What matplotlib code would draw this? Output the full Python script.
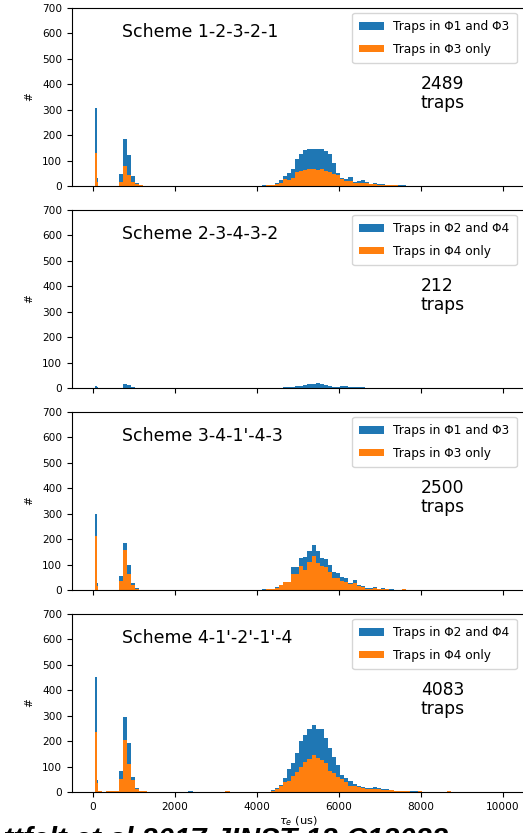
import numpy as np
import matplotlib
matplotlib.use("Agg")
import matplotlib.pyplot as plt

# ---- binning (us) ----
# two narrow bins around the fast population, then 100 us bins from 130 to 8730
EDGES = np.concatenate([[55, 95], np.arange(130, 8731, 100)])
LOW_START, MAIN_START = 130, 4030

# ---- panel titles / totals / legend labels ----
SCHEMES = ["Scheme 1-2-3-2-1", "Scheme 2-3-4-3-2", "Scheme 3-4-1'-4-3", "Scheme 4-1'-2'-1'-4"]
TOTALS = [2489, 212, 2500, 4083]
LABEL_BOTH = ["Traps in Φ1 and Φ3", "Traps in Φ2 and Φ4", "Traps in Φ1 and Φ3", "Traps in Φ2 and Φ4"]
LABEL_ONLY = ["Traps in Φ3 only", "Traps in Φ4 only", "Traps in Φ3 only", "Traps in Φ4 only"]

# ---- counts: spike bins (55-95, 95-130) ----
P1_SPIKE_BOTH, P1_SPIKE_ONLY = [305, 33], [129, 15]
P2_SPIKE_BOTH, P2_SPIKE_ONLY = [6, 2], [0, 0]
P3_SPIKE_BOTH, P3_SPIKE_ONLY = [299, 26], [212, 17]
P4_SPIKE_BOTH, P4_SPIKE_ONLY = [452, 48], [236, 35]

# ---- counts: bins starting 130, 230, ..., 1230 ----
P1_LOW_BOTH = [0, 0, 0, 0, 0, 48, 184, 121, 39, 10, 4, 0]
P1_LOW_ONLY = [0, 0, 0, 0, 0, 17, 80, 43, 17, 7, 3, 0]
P2_LOW_BOTH = [0, 0, 0, 0, 0, 0, 15, 13, 5, 0, 0, 0]
P2_LOW_ONLY = [0] * 12
P3_LOW_BOTH = [0, 0, 0, 0, 0, 56, 185, 98, 26, 8, 0, 0]
P3_LOW_ONLY = [0, 0, 0, 0, 0, 37, 159, 63, 20, 4, 0, 0]
P4_LOW_BOTH = [4, 0, 3, 3, 5, 81, 295, 194, 59, 17, 4, 4]
P4_LOW_ONLY = [2, 0, 3, 3, 3, 50, 203, 109, 46, 12, 4, 4]

# ---- counts: bins starting 4030, 4130, ..., 8630 ----
P1_MAIN_BOTH = [0, 3, 3, 5, 13, 22, 38, 52, 68, 107, 126, 140, 145, 145, 144, 145,
                138, 127, 89, 50, 31, 26, 34, 16, 20, 22, 17, 9, 12, 9, 8, 5,
                4, 3, 4, 3, 0, 0, 0, 0, 0, 0, 0, 0, 0, 0, 0]
P1_MAIN_ONLY = [0, 1, 2, 3, 8, 13, 26, 22, 30, 56, 59, 63, 66, 66, 62, 66,
                59, 55, 46, 42, 26, 20, 21, 10, 12, 10, 10, 7, 7, 5, 4, 4,
                3, 2, 0, 0, 0, 0, 0, 0, 0, 0, 0, 0, 0, 0, 0]
P2_MAIN_BOTH = [0, 0, 0, 0, 0, 1, 2, 2, 4, 6, 9, 11, 14, 17, 18, 16,
                13, 9, 5, 3, 8, 7, 4, 4, 3, 2, 0, 0, 0, 0, 0, 0,
                0, 0, 0, 0, 0, 0, 0, 0, 0, 0, 0, 0, 0, 0, 0]
P2_MAIN_ONLY = [0] * 47
P3_MAIN_BOTH = [0, 2, 4, 5, 10, 21, 33, 33, 89, 89, 126, 128, 152, 177, 152, 126,
                122, 98, 69, 66, 50, 47, 26, 39, 20, 17, 8, 7, 10, 5, 8, 4,
                5, 0, 0, 5, 0, 0, 0, 0, 0, 0, 0, 0, 0, 0, 0]
P3_MAIN_ONLY = [0, 1, 3, 4, 8, 18, 30, 30, 63, 63, 93, 79, 109, 132, 105, 96,
                89, 69, 47, 46, 37, 30, 24, 29, 16, 13, 5, 4, 7, 4, 5, 3,
                0, 0, 0, 5, 0, 0, 0, 0, 0, 0, 0, 0, 0, 0, 0]
P4_MAIN_BOTH = [1, 1, 1, 8, 14, 29, 55, 89, 113, 152, 200, 224, 249, 262, 249, 249,
                211, 172, 139, 106, 67, 55, 45, 31, 25, 21, 16, 16, 21, 16, 13, 10,
                8, 5, 4, 3, 2, 2, 2, 3, 1, 0, 0, 0, 0, 0, 3]
P4_MAIN_ONLY = [0, 1, 1, 5, 12, 24, 38, 45, 64, 80, 97, 117, 128, 145, 134, 126,
                114, 81, 73, 58, 51, 38, 25, 24, 18, 14, 12, 10, 12, 10, 9, 8,
                7, 4, 3, 2, 2, 1, 1, 2, 1, 0, 0, 0, 0, 0, 3]

# isolated traps between the two populations (scheme 4)
P4_STRAY_START = [2330, 3230]
P4_STRAY_BOTH = [3, 3]
P4_STRAY_ONLY = [0, 3]

BLUE, ORANGE = "#1f77b4", "#ff7f0e"


def assemble(spike, low, main, stray_start=(), stray=()):
    counts = np.zeros(len(EDGES) - 1)
    counts[0:2] = spike
    i0 = 2 + (LOW_START - 130) // 100
    counts[i0:i0 + len(low)] = low
    i1 = 2 + (MAIN_START - 130) // 100
    counts[i1:i1 + len(main)] = main
    for s, c in zip(stray_start, stray):
        counts[2 + (s - 130) // 100] = c
    return counts


panels = [
    (assemble(P1_SPIKE_BOTH, P1_LOW_BOTH, P1_MAIN_BOTH),
     assemble(P1_SPIKE_ONLY, P1_LOW_ONLY, P1_MAIN_ONLY)),
    (assemble(P2_SPIKE_BOTH, P2_LOW_BOTH, P2_MAIN_BOTH),
     assemble(P2_SPIKE_ONLY, P2_LOW_ONLY, P2_MAIN_ONLY)),
    (assemble(P3_SPIKE_BOTH, P3_LOW_BOTH, P3_MAIN_BOTH),
     assemble(P3_SPIKE_ONLY, P3_LOW_ONLY, P3_MAIN_ONLY)),
    (assemble(P4_SPIKE_BOTH, P4_LOW_BOTH, P4_MAIN_BOTH, P4_STRAY_START, P4_STRAY_BOTH),
     assemble(P4_SPIKE_ONLY, P4_LOW_ONLY, P4_MAIN_ONLY, P4_STRAY_START, P4_STRAY_ONLY)),
]

W, H = 523, 833
fig = plt.figure(figsize=(W / 100, H / 100), dpi=100)

tops_px = [8, 210, 412, 614]
ax_h_px = 178
left_px, width_px = 72, 452
tick_fs = 7.6

for k, (both, only) in enumerate(panels):
    top = tops_px[k]
    ax = fig.add_axes([left_px / W, (H - top - ax_h_px) / H, width_px / W, ax_h_px / H])
    ax.stairs(both, EDGES, fill=True, color=BLUE, label=LABEL_BOTH[k])
    ax.stairs(only, EDGES, fill=True, color=ORANGE, label=LABEL_ONLY[k])
    ax.set_xlim(-510, 10510)
    ax.set_ylim(0, 700)
    ax.set_xticks([0, 2000, 4000, 6000, 8000, 10000])
    ax.set_yticks(range(0, 701, 100))
    ax.tick_params(labelsize=tick_fs, length=3.5, width=0.8)
    ax.set_ylabel("#", fontsize=tick_fs, labelpad=6)
    if k < 3:
        ax.tick_params(labelbottom=False)
    else:
        ax.set_xlabel(r"$\tau_e$ (us)", fontsize=tick_fs + 0.6, labelpad=2)

    ax.text(0.111, 0.865, SCHEMES[k], transform=ax.transAxes, fontsize=12.5,
            ha="left", va="center")
    ax.text(0.772, 0.52, f"{TOTALS[k]}\ntraps", transform=ax.transAxes,
            fontsize=12.3, ha="left", va="center", linespacing=1.05)

    ax.legend(loc="upper right", bbox_to_anchor=(0.984, 0.972), borderaxespad=0,
              fontsize=8.7, labelspacing=0.8, handlelength=2.0, handleheight=0.6,
              borderpad=0.6, framealpha=0.8)

fig.text(448 / W, -15 / H, "Skottfelt et al 2017 JINST 12 C12022",
         fontsize=21, fontweight="bold", fontstyle="italic",
         family="Liberation Sans", ha="right", va="baseline", zorder=10)

fig.savefig("out.png", dpi=100)
